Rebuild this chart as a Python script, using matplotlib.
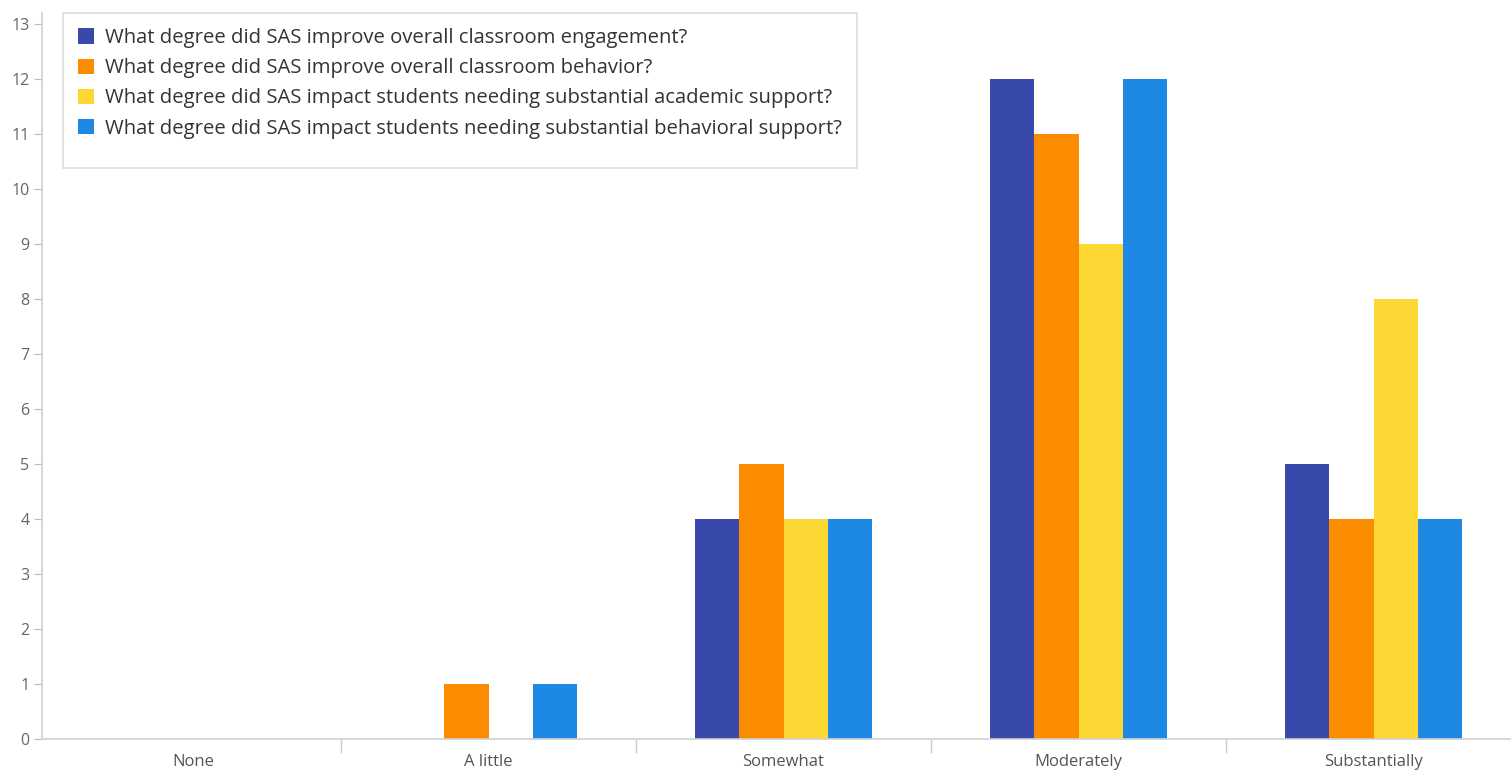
import numpy as np
import matplotlib
matplotlib.use('Agg')
import matplotlib.pyplot as plt
from matplotlib.patches import Rectangle
from matplotlib.ticker import FixedLocator

# Survey response counts per answer option
categories = ['None', 'A little', 'Somewhat', 'Moderately', 'Substantially']
series_names = [
    'What degree did SAS improve overall classroom engagement?',
    'What degree did SAS improve overall classroom behavior?',
    'What degree did SAS impact students needing substantial academic support?',
    'What degree did SAS impact students needing substantial behavioral support?',
]
engagement = [0, 0, 4, 12, 5]
behavior = [0, 1, 5, 11, 4]
academic_support = [0, 0, 4, 9, 8]
behavioral_support = [0, 1, 4, 12, 4]
colors = ['#3949AB', '#FB8C00', '#FDD835', '#1E88E5']

plt.rcParams['font.family'] = ['Open Sans', 'DejaVu Sans']

fig = plt.figure(figsize=(15.11, 7.70), dpi=100)
# plot area runs slightly past the right edge of the canvas
ax = fig.add_axes([42 / 1511, 1 - 739 / 770, (1521 - 42) / 1511, (739 - 13) / 770])

x = np.arange(len(categories))
width = 0.15
all_series = [engagement, behavior, academic_support, behavioral_support]
for i, (vals, name, c) in enumerate(zip(all_series, series_names, colors)):
    offset = (i - 1.5) * width
    ax.bar(x + offset, vals, width, color=c, label=name, linewidth=0)

ax.set_xlim(-0.5 - 4 / 295, 4.5)
ax.set_ylim(0, 13.2)
ax.set_yticks(range(0, 14))
ax.set_xticks(x)
ax.set_xticklabels(categories)
ax.xaxis.set_minor_locator(FixedLocator(np.arange(0.5, 4.5, 1)))

for s in ['top', 'right']:
    ax.spines[s].set_visible(False)
for s in ['left', 'bottom']:
    ax.spines[s].set_color('#d0d0d0')
    ax.spines[s].set_linewidth(1.2)

ax.tick_params(axis='y', length=6, color='#bbbbbb', labelsize=11.5, labelcolor='#666666', pad=3)
ax.tick_params(axis='x', which='major', length=0, labelsize=12, labelcolor='#555555', pad=11)
ax.tick_params(axis='x', which='minor', length=10, color='#cccccc', width=1)

leg = ax.legend(loc='upper left', bbox_to_anchor=(21 / 1479, 1.0), fontsize=14.6,
                frameon=False, handlelength=0.8, handleheight=0.8,
                handletextpad=0.5, labelspacing=0.5, borderpad=0.75,
                borderaxespad=0)
for t in leg.get_texts():
    t.set_color('#333333')

# legend box with some extra room below the last entry,
# drawn underneath the (transparent) axes
fig.canvas.draw()
bb = leg.get_window_extent()
extra = 14
frame = Rectangle((bb.x0, bb.y0 - extra), bb.width, bb.height + extra,
                  transform=None, facecolor='white', edgecolor='#dddddd',
                  linewidth=1.2, zorder=0.5)
fig.patches.append(frame)
ax.set_zorder(1)
ax.patch.set_alpha(0)

fig.savefig('out.png', dpi=100)
